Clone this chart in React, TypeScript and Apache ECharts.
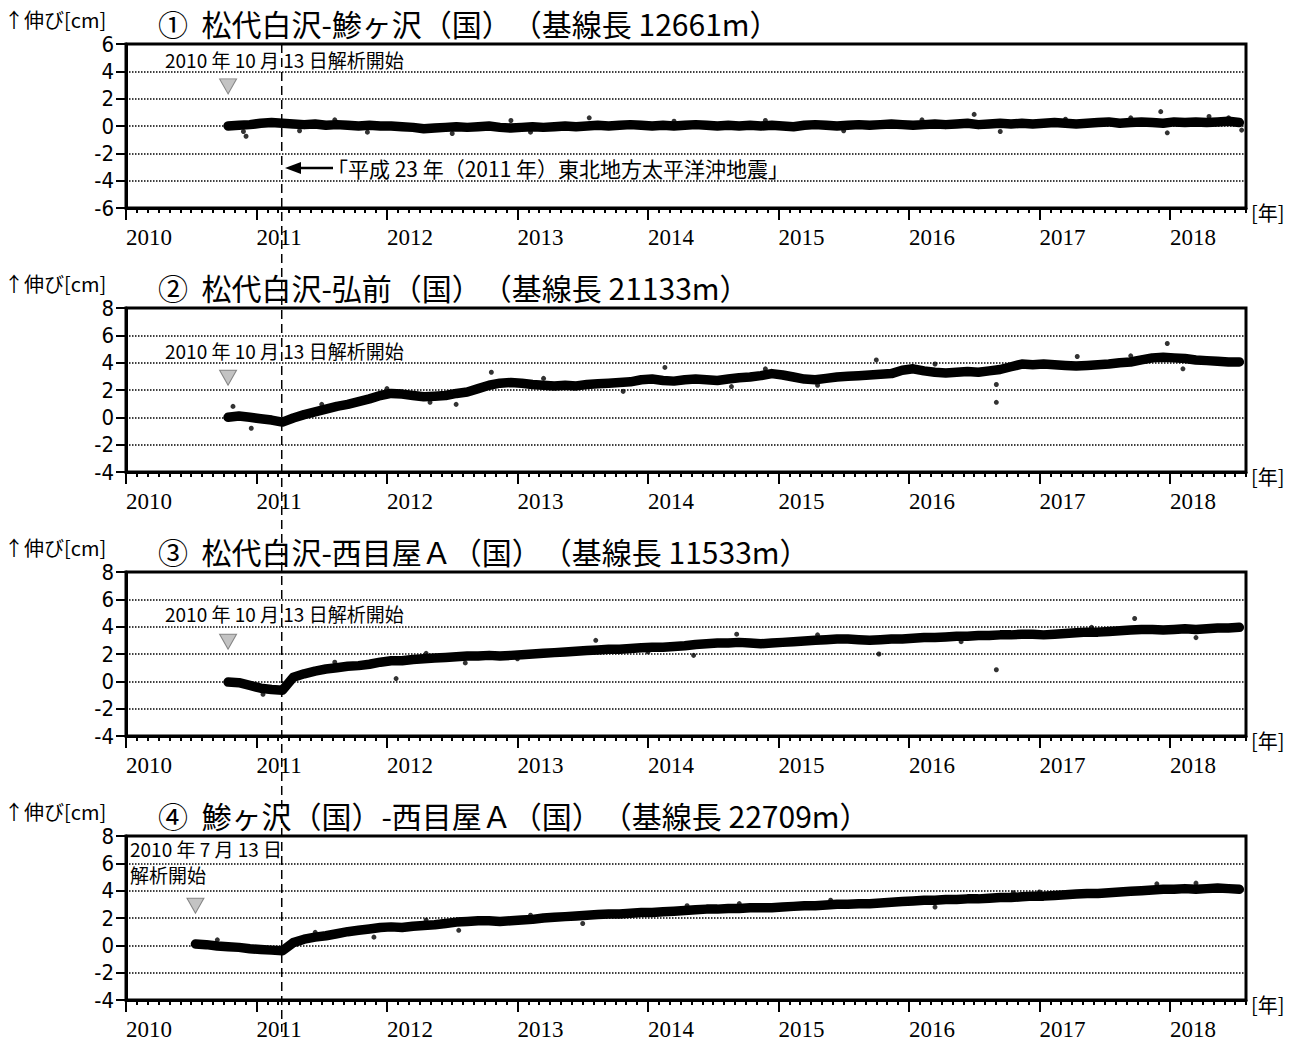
import { useEffect, useRef } from "react";
import * as echarts from "echarts";

// ---------------- data ----------------
const BASE_YEAR = 2010;
const X_MAX_MONTHS = 103; // end of plotted period (months after 2010-01-01)
const yearTickStep = 12;

const panelTitles = [
  "①  松代白沢-鯵ヶ沢（国）　（基線長 12661m）",
  "②  松代白沢-弘前（国）　（基線長 21133m）",
  "③  松代白沢-西目屋Ａ（国）　（基線長 11533m）",
  "④  鯵ヶ沢（国）-西目屋Ａ（国）　（基線長 22709m）",
];
const yMins = [-6, -4, -4, -4];
const yMaxs = [6, 8, 8, 8];
const yInterval = 2;

// analysis start dates [year, month, day]
const startDates: [number, number, number][] = [
  [2010, 10, 13],
  [2010, 10, 13],
  [2010, 10, 13],
  [2010, 7, 13],
];
const quakeDate: [number, number, number] = [2011, 3, 11];
const triangleLevel = 2.9;

// monthly readings after start (cm)
const p1Values = [
  0.0, 0.05, 0.1, 0.2, 0.25, 0.2, 0.15, 0.1, 0.15, 0.05, 0.1, 0.05,
  0.0, 0.05, 0.0, 0.0, -0.05, -0.1, -0.2, -0.15, -0.1, -0.05, -0.1, -0.05,
  0.0, -0.1, -0.15, -0.1, -0.05, -0.1, -0.05, 0.0, -0.05, 0.0, 0.05, 0.0,
  0.05, 0.1, 0.05, 0.0, 0.05, 0.0, 0.05, 0.1, 0.05, 0.0, 0.05, 0.0,
  0.05, 0.0, 0.05, 0.0, -0.05, 0.05, 0.1, 0.05, 0.0, 0.05, 0.1, 0.05,
  0.1, 0.15, 0.1, 0.05, 0.1, 0.15, 0.1, 0.15, 0.2, 0.1, 0.15, 0.2,
  0.15, 0.2, 0.15, 0.2, 0.25, 0.2, 0.15, 0.2, 0.25, 0.3, 0.2, 0.25,
  0.3, 0.25, 0.2, 0.3, 0.25, 0.3, 0.25, 0.3, 0.35, 0.25,
];
const p2Values = [
  0.0, 0.1, 0.0, -0.1, -0.2, -0.35, -0.05, 0.2, 0.4, 0.6, 0.8, 0.95,
  1.15, 1.35, 1.6, 1.75, 1.7, 1.6, 1.5, 1.55, 1.6, 1.75, 1.85, 2.1,
  2.35, 2.5, 2.55, 2.5, 2.4, 2.35, 2.3, 2.35, 2.3, 2.4, 2.45, 2.5,
  2.55, 2.6, 2.75, 2.8, 2.7, 2.65, 2.75, 2.8, 2.75, 2.7, 2.8, 2.9,
  2.95, 3.05, 3.2, 3.1, 2.95, 2.8, 2.75, 2.85, 2.95, 3.0, 3.05, 3.1,
  3.15, 3.2, 3.45, 3.55, 3.4, 3.3, 3.25, 3.3, 3.35, 3.3, 3.4, 3.5,
  3.7, 3.9, 3.85, 3.9, 3.85, 3.8, 3.75, 3.8, 3.85, 3.9, 4.0, 4.05,
  4.2, 4.35, 4.4, 4.35, 4.3, 4.2, 4.15, 4.1, 4.05, 4.05,
];
const p3Values = [
  -0.05, -0.1, -0.3, -0.5, -0.6, -0.65, 0.3, 0.55, 0.75, 0.9, 1.0, 1.1,
  1.15, 1.25, 1.4, 1.5, 1.5, 1.6, 1.65, 1.7, 1.75, 1.8, 1.85, 1.85,
  1.9, 1.85, 1.9, 1.95, 2.0, 2.05, 2.1, 2.15, 2.2, 2.25, 2.3, 2.35,
  2.35, 2.4, 2.45, 2.5, 2.5, 2.55, 2.6, 2.7, 2.75, 2.8, 2.8, 2.85,
  2.8, 2.75, 2.8, 2.85, 2.9, 2.95, 3.0, 3.05, 3.1, 3.1, 3.05, 3.0,
  3.05, 3.1, 3.1, 3.15, 3.2, 3.2, 3.25, 3.3, 3.3, 3.35, 3.35, 3.4,
  3.4, 3.45, 3.45, 3.4, 3.45, 3.5, 3.55, 3.6, 3.6, 3.65, 3.7, 3.75,
  3.8, 3.8, 3.75, 3.8, 3.85, 3.8, 3.85, 3.9, 3.9, 3.95,
];
const p4Values = [
  0.1, 0.05, -0.05, -0.1, -0.15, -0.25, -0.3, -0.35, -0.4, 0.2, 0.45, 0.6,
  0.7, 0.85, 1.0, 1.1, 1.2, 1.3, 1.35, 1.3, 1.4, 1.45, 1.5, 1.6,
  1.7, 1.75, 1.8, 1.8, 1.75, 1.8, 1.85, 1.9, 2.0, 2.05, 2.1, 2.15,
  2.2, 2.25, 2.3, 2.3, 2.35, 2.4, 2.4, 2.45, 2.5, 2.55, 2.6, 2.65,
  2.65, 2.7, 2.7, 2.75, 2.75, 2.75, 2.8, 2.85, 2.9, 2.9, 2.95, 3.0,
  3.0, 3.05, 3.05, 3.1, 3.15, 3.2, 3.25, 3.3, 3.3, 3.35, 3.35, 3.4,
  3.4, 3.45, 3.5, 3.5, 3.55, 3.6, 3.6, 3.65, 3.7, 3.75, 3.8, 3.8,
  3.85, 3.9, 3.95, 4.0, 4.05, 4.1, 4.1, 4.15, 4.1, 4.15, 4.2, 4.15,
  4.1,
];
const panelValues = [p1Values, p2Values, p3Values, p4Values];

// scattered outlying points [decimal year, cm]
const p1Outliers = [
  [2010.92, -0.75], [2010.9, -0.4], [2011.33, -0.35], [2011.85, -0.45],
  [2012.5, -0.55], [2013.55, 0.6], [2014.2, 0.35], [2016.5, 0.85],
  [2016.7, -0.4], [2017.7, 0.6], [2017.93, 1.05], [2017.98, -0.5],
  [2018.3, 0.7], [2018.55, -0.3], [2011.6, 0.45], [2012.95, 0.4],
  [2013.1, -0.45], [2014.9, 0.4], [2015.5, -0.35], [2016.1, 0.45],
  [2017.2, 0.5], [2018.45, 0.6],
];
const p2Outliers = [
  [2010.82, 0.8], [2010.96, -0.8], [2012.33, 1.1], [2012.53, 0.95],
  [2012.8, 3.3], [2013.81, 1.9], [2014.13, 3.65], [2014.64, 2.25],
  [2015.75, 4.2], [2016.67, 1.1], [2016.67, 2.4], [2017.29, 4.45],
  [2017.98, 5.4], [2018.1, 3.55], [2011.5, 0.95], [2012.0, 2.1],
  [2013.2, 2.85], [2014.9, 3.55], [2015.3, 2.35], [2016.2, 3.9],
  [2017.7, 4.5],
];
const p3Outliers = [
  [2011.05, -0.95], [2012.07, 0.2], [2012.6, 1.35], [2013.0, 1.65],
  [2013.6, 3.0], [2014.35, 1.9], [2014.68, 3.45], [2015.77, 2.0],
  [2016.67, 0.85], [2017.73, 4.6], [2018.2, 3.2], [2011.6, 1.4],
  [2012.3, 2.05], [2014.0, 2.15], [2015.3, 3.4], [2016.4, 2.9],
  [2017.4, 3.95],
];
const p4Outliers = [
  [2010.7, 0.4], [2011.9, 0.6], [2012.55, 1.1], [2013.5, 1.6],
  [2014.3, 2.9], [2015.4, 3.3], [2016.2, 2.8], [2017.0, 3.9],
  [2017.9, 4.5], [2011.45, 0.95], [2012.3, 1.85], [2013.1, 2.2],
  [2014.7, 3.05], [2016.8, 3.85], [2018.2, 4.55],
];
const panelOutliers = [p1Outliers, p2Outliers, p3Outliers, p4Outliers];

const startNotes = [
  ["2010 年 10 月 13 日解析開始"],
  ["2010 年 10 月 13 日解析開始"],
  ["2010 年 10 月 13 日解析開始"],
  ["2010 年 7 月 13 日", "解析開始"],
];
const quakeNote = "「平成 23 年（2011 年）東北地方太平洋沖地震」";
const yUnitLabel = "↑伸び[cm]";
const xUnitLabel = "[年]";

// ---------------- layout ----------------
const GRID_LEFT = 126;
const GRID_WIDTH = 1120;
const GRID_TOPS = [44, 308, 572, 836];
const GRID_HEIGHT = 164;
const NARROW = "'Liberation Sans Narrow', 'DejaVu Sans Condensed', 'Noto Sans', sans-serif";
const SERIF = "'Liberation Serif', 'DejaVu Serif', serif";
const CJK = "'Noto Sans CJK JP', 'Noto Sans', sans-serif";

const dateToMonths = (d: [number, number, number]) =>
  (d[0] - BASE_YEAR) * 12 + (d[1] - 1) + (d[2] - 1) / 31;
const yearToMonths = (y: number) => (y - BASE_YEAR) * 12;

function buildOption(quakePx: number | null) {
  const grids: any[] = [];
  const xAxes: any[] = [];
  const yAxes: any[] = [];
  const series: any[] = [];
  const graphic: any[] = [];

  GRID_TOPS.forEach((top, p) => {
    grids.push({
      left: GRID_LEFT,
      top,
      width: GRID_WIDTH,
      height: GRID_HEIGHT,
      show: true,
      borderColor: "#000",
      borderWidth: 3,
      backgroundColor: "transparent",
      containLabel: false,
      outerBoundsMode: "none",
    });
    // major year axis
    xAxes.push({
      type: "value",
      gridIndex: p,
      min: 0,
      max: X_MAX_MONTHS,
      interval: yearTickStep,
      axisLine: { show: true, onZero: false, lineStyle: { color: "#000", width: 3 } },
      axisTick: { show: true, length: 12, lineStyle: { color: "#000", width: 2 } },
      splitLine: { show: false },
      axisLabel: {
        show: true,
        align: "left",
        margin: 18,
        fontFamily: SERIF,
        fontSize: 23,
        color: "#000",
        showMaxLabel: false,
        formatter: (v: number) => (v % 12 === 0 ? String(BASE_YEAR + v / 12) : ""),
      },
    });
    // monthly minor-tick axis
    xAxes.push({
      type: "value",
      gridIndex: p,
      min: 0,
      max: X_MAX_MONTHS,
      interval: 1,
      position: "bottom",
      axisLine: { show: false, onZero: false },
      axisTick: { show: true, length: 5, lineStyle: { color: "#000", width: 2 } },
      splitLine: { show: false },
      axisLabel: { show: false },
    });
    yAxes.push({
      type: "value",
      gridIndex: p,
      min: yMins[p],
      max: yMaxs[p],
      interval: yInterval,
      axisLine: { show: true, onZero: false, lineStyle: { color: "#000", width: 3 } },
      axisTick: { show: true, length: 10, lineStyle: { color: "#000", width: 2 } },
      splitLine: { show: true, lineStyle: { type: "dotted", color: "#000", width: 1.5 } },
      axisLabel: { margin: 12, fontFamily: NARROW, fontSize: 22, color: "#000" },
    });

    const start = dateToMonths(startDates[p]);
    series.push({
      type: "line",
      xAxisIndex: p * 2,
      yAxisIndex: p,
      data: panelValues[p].map((v, i) => [start + i, v]),
      showSymbol: false,
      symbol: "none",
      lineStyle: { color: "#000", width: 9.5, join: "round", cap: "round" },
      silent: true,
      z: 3,
    });
    series.push({
      type: "scatter",
      xAxisIndex: p * 2,
      yAxisIndex: p,
      data: panelOutliers[p].map(([y, v]) => [yearToMonths(y), v]),
      symbolSize: 5,
      itemStyle: { color: "#000" },
      silent: true,
      z: 3,
    });
    series.push({
      type: "scatter",
      xAxisIndex: p * 2,
      yAxisIndex: p,
      data: [[start, triangleLevel]],
      symbol: "triangle",
      symbolRotate: 180,
      symbolSize: [17, 15],
      itemStyle: { color: "#b4b4b4", borderColor: "#6e6e6e", borderWidth: 1 },
      silent: true,
      z: 4,
    });

    // texts
    graphic.push({
      type: "text",
      x: 4,
      y: top - 25,
      style: { text: yUnitLabel, fontFamily: CJK, fontSize: 20, fill: "#000", verticalAlign: "middle" },
    });
    graphic.push({
      type: "text",
      x: 158,
      y: top - 21,
      style: { text: panelTitles[p], fontFamily: CJK, fontSize: 30, fill: "#000", verticalAlign: "middle" },
    });
    graphic.push({
      type: "text",
      x: 1251,
      y: top + GRID_HEIGHT + 4,
      style: { text: xUnitLabel, fontFamily: CJK, fontSize: 20, fill: "#000", verticalAlign: "middle" },
    });
  });

  // start notes
  const noteYs = [59, 350, 613];
  for (let p = 0; p < 3; p++) {
    graphic.push({
      type: "text",
      x: 165,
      y: noteYs[p],
      style: { text: startNotes[p][0], fontFamily: CJK, fontSize: 19, fill: "#000", verticalAlign: "middle" },
      z: 10,
    });
  }
  graphic.push({
    type: "text",
    x: 130,
    y: 848,
    style: { text: startNotes[3][0], fontFamily: CJK, fontSize: 19, fill: "#000", verticalAlign: "middle" },
    z: 10,
  });
  graphic.push({
    type: "text",
    x: 130,
    y: 874,
    style: { text: startNotes[3][1], fontFamily: CJK, fontSize: 19, fill: "#000", verticalAlign: "middle" },
    z: 10,
  });

  // earthquake note with arrow
  graphic.push({
    type: "line",
    shape: { x1: 298, y1: 168, x2: 333, y2: 168 },
    style: { stroke: "#000", lineWidth: 2.5 },
    z: 10,
  });
  graphic.push({
    type: "polygon",
    shape: { points: [[285, 168], [301, 162], [301, 174]] },
    style: { fill: "#000" },
    z: 10,
  });
  graphic.push({
    type: "text",
    x: 327,
    y: 168,
    style: { text: quakeNote, fontFamily: CJK, fontSize: 21, fill: "#000", verticalAlign: "middle" },
    z: 10,
  });

  if (quakePx != null) {
    graphic.push({
      type: "line",
      shape: { x1: quakePx, y1: GRID_TOPS[0], x2: quakePx, y2: 1032 },
      style: { stroke: "#000", lineWidth: 1.5, lineDash: [9, 5] },
      z: 20,
    });
  }

  return {
    animation: false,
    backgroundColor: "#fff",
    grid: grids,
    xAxis: xAxes,
    yAxis: yAxes,
    series,
    graphic,
  };
}

export default function App() {
  const ref = useRef<HTMLDivElement>(null);
  useEffect(() => {
    if (!ref.current) return;
    const chart = echarts.init(ref.current, null, { renderer: "svg" });
    chart.setOption(buildOption(null) as any);
    const px = chart.convertToPixel({ xAxisIndex: 0 }, dateToMonths(quakeDate)) as number;
    chart.setOption(buildOption(px) as any, true);
    return () => chart.dispose();
  }, []);
  return (
    <div
      ref={ref}
      style={{ position: "absolute", left: 0, top: 0, width: 1299, height: 1043 }}
    />
  );
}
